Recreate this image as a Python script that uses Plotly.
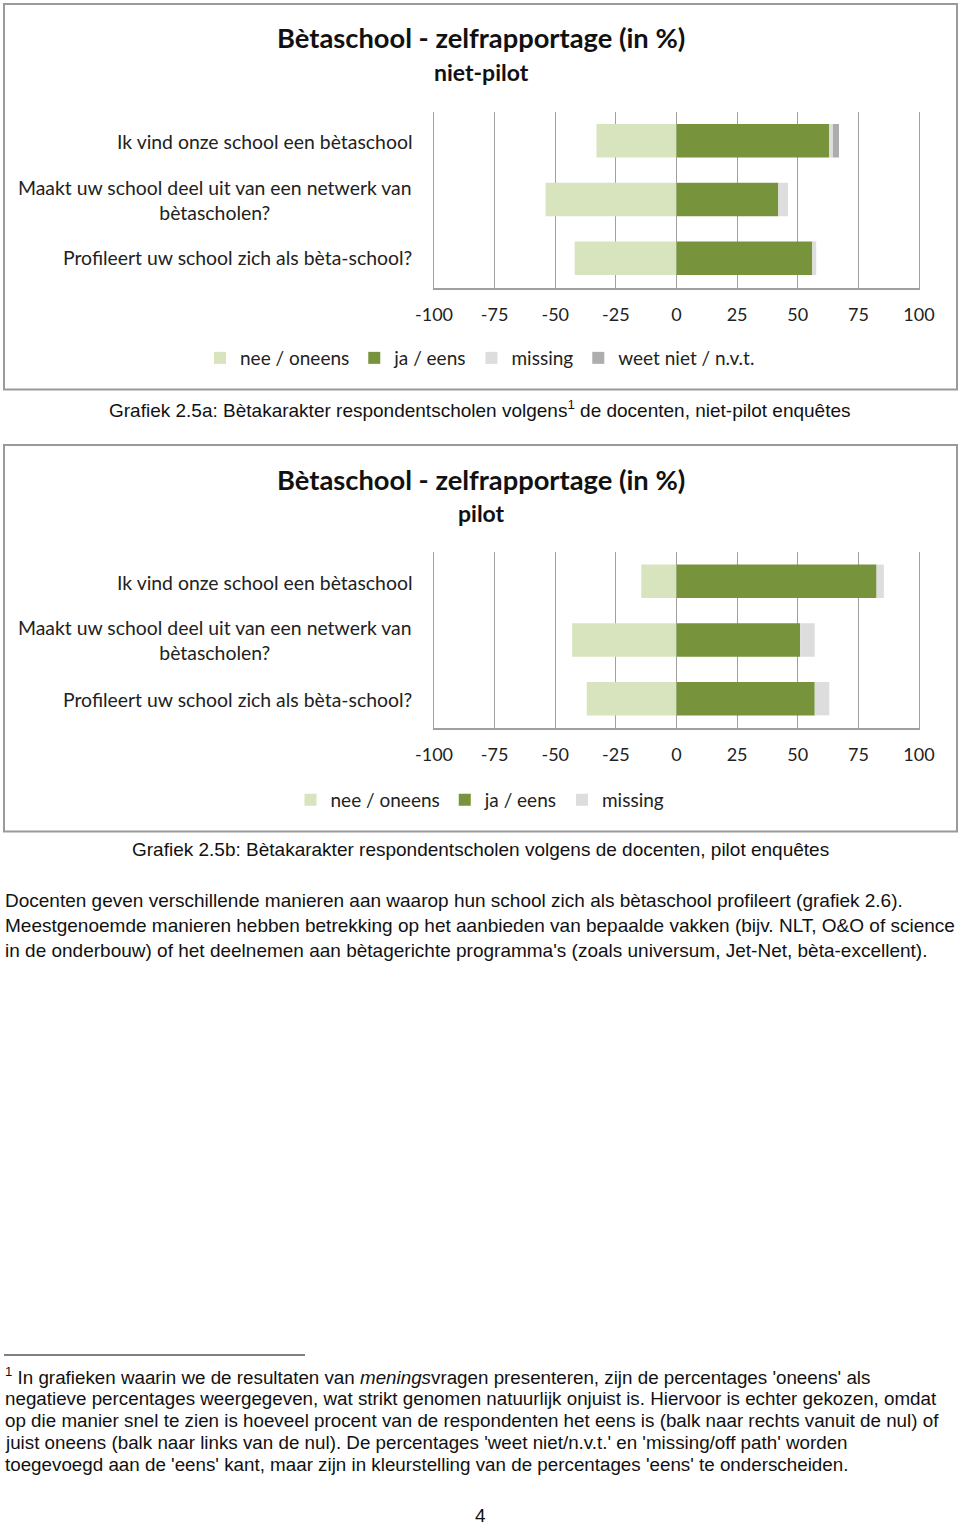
import plotly.graph_objects as go

W, H = 960, 1525

# ---------------- data ----------------
questions = [
    "Ik vind onze school een bètaschool",
    "Maakt uw school deel uit van een netwerk van<br>bètascholen?",
    "Profileert uw school zich als bèta-school?",
]
series_names = ["nee / oneens", "ja / eens", "missing", "weet niet / n.v.t."]

# niet-pilot (grafiek 2.5a)
np_nee = [-33, -54, -42]
np_ja = [63, 42, 56]
np_missing = [1.5, 4, 1.6]
np_weetniet = [2.5, 0, 0]

# pilot (grafiek 2.5b)
p_nee = [-14.5, -43, -37]
p_ja = [82.5, 51, 57]
p_missing = [3, 6, 6]

x_ticks = [-100, -75, -50, -25, 0, 25, 50, 75, 100]

colors = {"nee / oneens": "#D7E4BD", "ja / eens": "#77933C",
          "missing": "#DDDDDD", "weet niet / n.v.t.": "#ADADAD"}

CAL = "Lato, 'Open Sans', sans-serif"
ARIAL = "Arial, 'Liberation Sans', sans-serif"


def X(px):
    return px / W


def Y(py):
    return 1 - py / H


cat_ids = ["q1", "q2", "q3"]

fig = go.Figure()

chart1 = [np_nee, np_ja, np_missing, np_weetniet]
for name, vals in zip(series_names, chart1):
    fig.add_trace(go.Bar(y=cat_ids, x=vals, orientation="h", name=name,
                         marker=dict(color=colors[name], line=dict(width=0)),
                         xaxis="x", yaxis="y", legend="legend",
                         hoverinfo="skip"))

chart2 = [p_nee, p_ja, p_missing]
for name, vals in zip(series_names[:3], chart2):
    fig.add_trace(go.Bar(y=cat_ids, x=vals, orientation="h", name=name,
                         marker=dict(color=colors[name], line=dict(width=0)),
                         xaxis="x2", yaxis="y2", legend="legend2",
                         hoverinfo="skip"))

grid = "#A0A0A0"
xcommon = dict(range=[-100, 100], tickvals=x_ticks, ticktext=[str(t) for t in x_ticks],
               showgrid=True, gridcolor=grid, gridwidth=1.3, zeroline=False,
               showline=True, linecolor=grid, linewidth=1.5, ticks="",
               ticklabelstandoff=10, tickfont=dict(family=CAL, size=18, color="#222"),
               fixedrange=True, automargin=False)
ycommon = dict(categoryorder="array", categoryarray=cat_ids, autorange="reversed",
               showticklabels=False, showgrid=False, zeroline=False,
               showline=True, linecolor=grid, linewidth=1.3, mirror=True,
               ticks="", fixedrange=True, automargin=False)

fig.update_layout(
    width=W, height=H, margin=dict(l=0, r=0, t=0, b=0, autoexpand=False),
    paper_bgcolor="white", plot_bgcolor="white",
    barmode="relative", bargap=0.43, showlegend=True,
    xaxis=dict(domain=[X(434), X(919)], anchor="y", **xcommon),
    yaxis=dict(domain=[Y(287.5), Y(111.5)], anchor="x", **ycommon),
    xaxis2=dict(domain=[X(434), X(919)], anchor="y2", **xcommon),
    yaxis2=dict(domain=[Y(728), Y(552)], anchor="x2", **ycommon),
    legend=dict(orientation="h", x=X(480), xanchor="center", y=Y(358), yanchor="middle",
                font=dict(family=CAL, size=19, color="#222"), bgcolor="rgba(0,0,0,0)",
                traceorder="normal"),
    legend2=dict(orientation="h", x=X(480), xanchor="center", y=Y(800), yanchor="middle",
                 font=dict(family=CAL, size=19, color="#222"), bgcolor="rgba(0,0,0,0)",
                 traceorder="normal"),
)

shapes = [
    dict(type="rect", xref="paper", yref="paper", x0=X(4), x1=X(957), y0=Y(4), y1=Y(389.5),
         line=dict(color="#9A9A9A", width=2), fillcolor="rgba(0,0,0,0)", layer="below"),
    dict(type="rect", xref="paper", yref="paper", x0=X(4), x1=X(957), y0=Y(445), y1=Y(831.5),
         line=dict(color="#9A9A9A", width=2), fillcolor="rgba(0,0,0,0)", layer="below"),
    dict(type="line", xref="paper", yref="paper", x0=X(4), x1=X(305), y0=Y(1355), y1=Y(1355),
         line=dict(color="#000", width=1)),
]
fig.update_layout(shapes=shapes)

ann = []


def txt(text, x, y, size, family=CAL, xanchor="center", align="center", bold=False, color="#111"):
    if bold:
        text = "<b>" + text + "</b>"
    ann.append(dict(text=text, x=X(x), y=Y(y), xref="paper", yref="paper",
                    xanchor=xanchor, yanchor="middle", align=align, showarrow=False,
                    font=dict(family=family, size=size, color=color)))


# chart titles
for top, sub in [(0, "niet-pilot"), (441, "pilot")]:
    txt("Bètaschool - zelfrapportage (in %)", 481, 38 + top, 27.3, bold=True)
    txt(sub, 481, 72 + top, 23, bold=True)
    # category labels
    label_y = [141, 199.5, 258]
    for q, ly in zip(questions, label_y):
        txt(q, 414, ly + top, 19.4, xanchor="right", align="center", color="#222")

# captions
txt("Grafiek 2.5a: Bètakarakter respondentscholen volgens<sup>1</sup> de docenten, niet-pilot enquêtes",
    480, 409, 19, family=ARIAL, color="#111")
txt("Grafiek 2.5b: Bètakarakter respondentscholen volgens de docenten, pilot enquêtes",
    480, 850, 19, family=ARIAL, color="#111")

para = [
    "Docenten geven verschillende manieren aan waarop hun school zich als bètaschool profileert (grafiek 2.6).",
    "Meestgenoemde manieren hebben betrekking op het aanbieden van bepaalde vakken (bijv. NLT, O&amp;O of science",
    "in de onderbouw) of het deelnemen aan bètagerichte programma's (zoals universum, Jet-Net, bèta-excellent).",
]
for i, line in enumerate(para):
    txt(line, 3, 900 + 25 * i, 19, family=ARIAL, xanchor="left", align="left", color="#111")

foot = [
    "<sup>1</sup> In grafieken waarin we de resultaten van <i>menings</i>vragen presenteren, zijn de percentages 'oneens' als",
    "negatieve percentages weergegeven, wat strikt genomen natuurlijk onjuist is. Hiervoor is echter gekozen, omdat",
    "op die manier snel te zien is hoeveel procent van de respondenten het eens is (balk naar rechts vanuit de nul) of",
    "juist oneens (balk naar links van de nul). De percentages 'weet niet/n.v.t.' en 'missing/off path' worden",
    "toegevoegd aan de 'eens' kant, maar zijn in kleurstelling van de percentages 'eens' te onderscheiden.",
]
for i, line in enumerate(foot):
    txt(line, 3, 1376 + 22 * i, 18.8, family=ARIAL, xanchor="left", align="left", color="#111")

txt("4", 480, 1515, 19, family=ARIAL, color="#111")

fig.update_layout(annotations=ann)

fig.write_html("out.html")
